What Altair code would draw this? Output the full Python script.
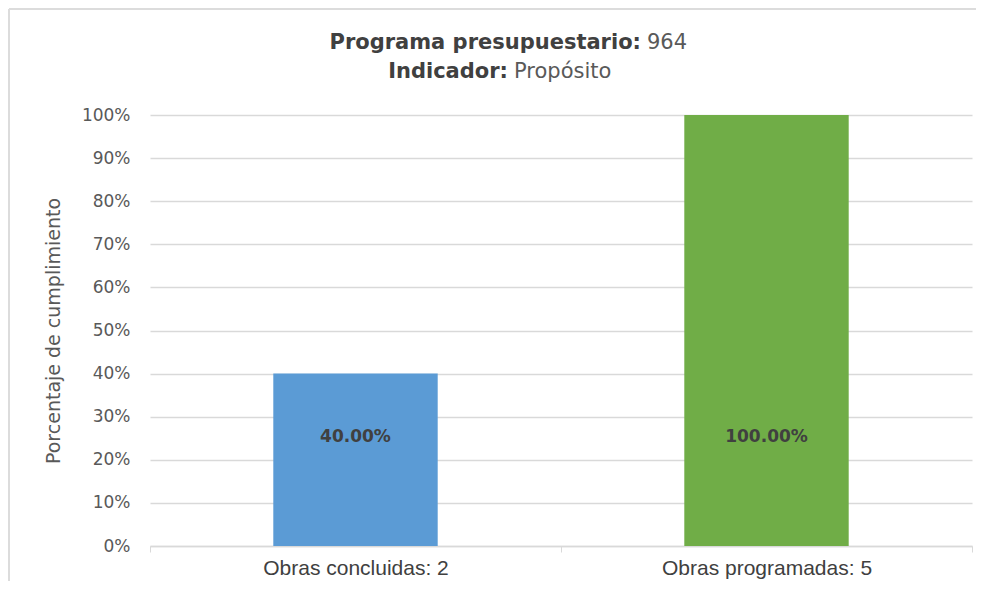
import altair as alt
import pandas as pd

categories = ["Obras concluidas: 2", "Obras programadas: 5"]
values = [0.40, 1.00]
colors = ["#5b9bd5", "#70ad47"]

title1_bold = "Programa presupuestario:"
title1_rest = "964"
title2_bold = "Indicador:"
title2_rest = "Propósito"
y_title = "Porcentaje de cumplimiento"

df = pd.DataFrame({"cat": categories, "val": values, "color": colors})

W, H = 822, 431

x_enc = alt.X("cat:N", sort=categories, title=None,
              scale=alt.Scale(paddingInner=0, paddingOuter=0),
              axis=alt.Axis(labelAngle=0, labelFont="Liberation Sans",
                            labelFontSize=21, labelLimit=400, labelBaseline="alphabetic",
                            labelColor="#404040", labelPadding=22, tickBand="extent",
                            tickColor="#d9d9d9", tickSize=6, domainColor="#d9d9d9",
                            domainWidth=1.5, grid=False))

bars = alt.Chart(df).mark_bar(width=alt.RelativeBandSize(0.4)).encode(
    x=x_enc,
    y=alt.Y("val:Q", scale=alt.Scale(domain=[0, 1]), title=y_title,
            axis=alt.Axis(format="%", values=[i / 10 for i in range(11)], labelOverlap=False,
                          labelFont="DejaVu Sans", labelFontSize=17, labelColor="#595959",
                          labelPadding=20, ticks=False, domain=False,
                          gridColor="#d9d9d9", gridWidth=1.3,
                          titleFont="DejaVu Sans", titleFontSize=19, titleFontWeight="normal",
                          titleColor="#595959", titleX=-97, titleY=H / 2, titleAngle=-90,
                          titleAlign="center", titleBaseline="middle")),
    color=alt.Color("color:N", scale=None),
)

labels = alt.Chart(df).transform_calculate(
    lab="format(datum.val, '.2%')"
).mark_text(font="DejaVu Sans", fontSize=17, fontWeight="bold", color="#404040").encode(
    x=alt.X("cat:N", sort=categories),
    y=alt.datum(0.252),
    text="lab:N",
)

tdf = pd.DataFrame({"a": [0]})
t1b = alt.Chart(tdf).mark_text(font="DejaVu Sans", fontSize=21, fontWeight="bold", color="#404040",
                                align="right", baseline="middle").encode(
    x=alt.value(491), y=alt.value(-72), text=alt.value(title1_bold))
t1r = alt.Chart(tdf).mark_text(font="DejaVu Sans", fontSize=21, color="#595959",
                                align="left", baseline="middle").encode(
    x=alt.value(497), y=alt.value(-72), text=alt.value(title1_rest))
t2b = alt.Chart(tdf).mark_text(font="DejaVu Sans", fontSize=21, fontWeight="bold", color="#404040",
                                align="right", baseline="middle").encode(
    x=alt.value(358), y=alt.value(-43), text=alt.value(title2_bold))
t2r = alt.Chart(tdf).mark_text(font="DejaVu Sans", fontSize=21, color="#595959",
                                align="left", baseline="middle").encode(
    x=alt.value(364), y=alt.value(-43), text=alt.value(title2_rest))

frame_l = alt.Chart(tdf).mark_rule(color="#dcdcdc", strokeWidth=2).encode(
    x=alt.value(-141), y=alt.value(-106), y2=alt.value(600))
frame_t = alt.Chart(tdf).mark_rule(color="#dcdcdc", strokeWidth=2).encode(
    x=alt.value(-141), x2=alt.value(900), y=alt.value(-106))

chart = alt.layer(bars, labels, t1b, t1r, t2b, t2r, frame_l, frame_t).properties(
    width=W, height=H,
    autosize=alt.AutoSizeParams(type="none"),
    padding={"left": 142, "top": 107, "right": 4, "bottom": 35},
).configure_view(stroke=None)

chart.save("out.html", embed_options={"renderer": "svg", "actions": False})
